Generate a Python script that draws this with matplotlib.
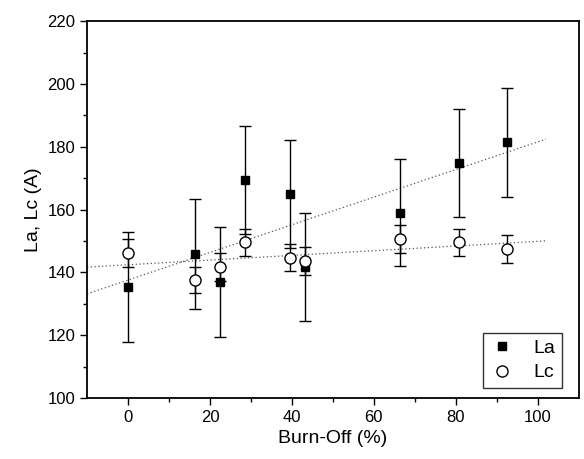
import numpy as np
import matplotlib.pyplot as plt

plt.rcParams['font.family'] = ['Liberation Sans', 'DejaVu Sans']

# burn-off (%) for each sample
burn_off = [0, 16.3, 22.4, 28.5, 39.5, 43.3, 66.5, 80.7, 92.6]

# crystallite sizes (A) and their errors
la = [135.3, 145.7, 137.0, 169.5, 165.0, 141.7, 159.0, 174.8, 181.4]
la_err = [17.5, 17.5, 17.5, 17.2, 17.3, 17.2, 17.0, 17.2, 17.3]
lc = [146.2, 137.6, 141.6, 149.6, 144.7, 143.6, 150.5, 149.6, 147.4]
lc_err = [4.4, 4.2, 4.5, 4.3, 4.4, 4.5, 4.5, 4.3, 4.4]

fig = plt.figure(figsize=(5.84, 4.59), dpi=100)
ax = fig.add_axes([0.149, 0.133, 0.842, 0.821])

# linear fits drawn as dotted lines
xfit = np.array([-10, 102])
for y in (la, lc):
    k, b = np.polyfit(burn_off, y, 1)
    ax.plot(xfit, k * xfit + b, linestyle=(0, (1, 2)), color='#555555', linewidth=0.9)

ax.errorbar(burn_off, la, yerr=la_err, fmt='s', color='black', markersize=6,
            ecolor='black', elinewidth=1, capsize=4, capthick=1, label='La', zorder=3)
ax.errorbar(burn_off, lc, yerr=lc_err, fmt='o', color='black', markerfacecolor='white',
            markersize=8, ecolor='black', elinewidth=1, capsize=4, capthick=1, label='Lc', zorder=4)

ax.set_xlim(-10, 110)
ax.set_ylim(100, 220)
ax.set_xticks([0, 20, 40, 60, 80, 100])
ax.set_xticks([10, 30, 50, 70, 90], minor=True)
ax.set_yticks(range(100, 221, 20))
ax.set_yticks(range(110, 220, 20), minor=True)
ax.tick_params(which='major', direction='out', length=5, width=1, labelsize=12)
ax.tick_params(which='minor', direction='out', length=3, width=1)
for s in ax.spines.values():
    s.set_linewidth(1.3)

ax.set_xlabel('Burn-Off (%)', fontsize=14)
ax.set_ylabel('La, Lc (A)', fontsize=14)

handles, labels = ax.get_legend_handles_labels()
handles = [h[0] for h in handles]
leg = ax.legend(handles, labels, loc='lower right', fontsize=14, frameon=True, fancybox=False,
                edgecolor='black', handlelength=1.2, handletextpad=1.0, borderpad=0.35,
                labelspacing=0.35, borderaxespad=0.5, bbox_to_anchor=(0.985, 0.0))
leg.get_frame().set_linewidth(1)

fig.savefig('out.png', dpi=100)
